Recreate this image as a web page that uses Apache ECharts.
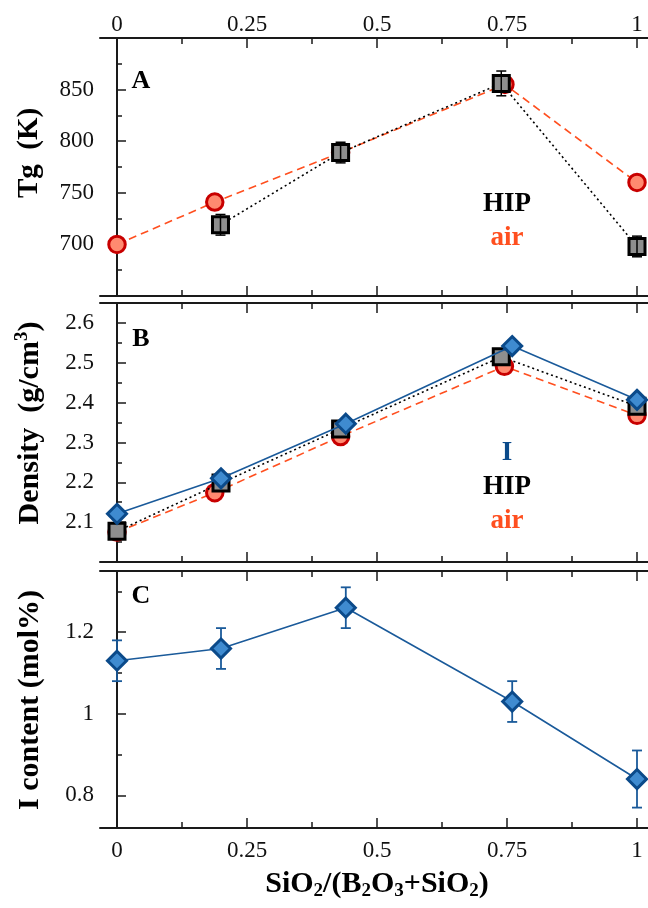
<!DOCTYPE html>
<html><head><meta charset="utf-8">
<script src="https://cdn.jsdelivr.net/npm/echarts@6/dist/echarts.min.js"></script>
<style>html,body{margin:0;padding:0;background:#fff}#c{width:648px;height:908px}</style>
</head><body><div id="c"></div>
<script>
// ---- tick labels ----
const xTickValues = [0, 0.25, 0.5, 0.75, 1];
const xMinorTickValues = [0.125, 0.375, 0.625, 0.875];
const tgTicks = [700, 750, 800, 850];
const tgMinorTicks = [675, 725, 775, 825, 875];
const densTicks = [2.1, 2.2, 2.3, 2.4, 2.5, 2.6];
const densMinorTicks = [2.05, 2.15, 2.25, 2.35, 2.45, 2.55];
const iTicks = [0.8, 1, 1.2];
const iMinorTicks = [0.9, 1.1, 1.3];

// ---- panel A: Tg ----
const airTgX = [0, 0.188, 0.43, 0.746, 1];
const airTg = [700, 741, 789, 855, 760];
const hipTgX = [0.199, 0.43, 0.739, 1];
const hipTg = [719, 789, 856, 698];
const hipTgErr = [10, 10, 12, 10];

// ---- panel B: density ----
const airDensX = [0, 0.188, 0.43, 0.745, 1];
const airDens = [2.075, 2.174, 2.315, 2.491, 2.368];
const hipDensX = [0, 0.2, 0.43, 0.739, 1];
const hipDens = [2.077, 2.198, 2.334, 2.515, 2.391];
const iDensX = [0, 0.2, 0.44, 0.76, 1];
const iDens = [2.121, 2.21, 2.347, 2.542, 2.407];

// ---- panel C: I content ----
const iContX = [0, 0.2, 0.44, 0.76, 1];
const iCont = [1.13, 1.16, 1.26, 1.03, 0.84];
const iContErrLow = [0.05, 0.05, 0.05, 0.05, 0.07];
const iContErrHigh = [0.05, 0.05, 0.05, 0.05, 0.07];

const FONT = 'Liberation Serif';
const AXC = '#1a1a1a';
const AIR_LINE = '#ff4f1f', AIR_FILL = '#ff8a70', AIR_EDGE = '#c80000';
const HIP_FILL = '#8e8e8e', HIP_EDGE = '#000000';
const I_LINE = '#1a5a9a', I_FILL = '#3f8bd0', I_EDGE = '#0b4a8a';

const panels = [
  {top: 38, height: 258, min: 650, max: 900, ticks: tgTicks, minor: tgMinorTicks, topLabels: true, bottomLabels: false},
  {top: 303, height: 259, min: 2.0, max: 2.65, ticks: densTicks, minor: densMinorTicks, topLabels: false, bottomLabels: false},
  {top: 571, height: 257, min: 0.72, max: 1.35, ticks: iTicks, minor: iMinorTicks, topLabels: false, bottomLabels: true}
];
const X_MIN = -17 / 520, X_MAX = 1 + 11 / 520;

const grid = [], xAxis = [], yAxis = [];
panels.forEach((p, gi) => {
  grid.push({left: 100, right: 0, top: p.top, height: p.height, containLabel: false});
  ['bottom', 'top'].forEach(pos => {
    const showLab = pos === 'bottom' ? p.bottomLabels : p.topLabels;
    xAxis.push({
      type: 'value', gridIndex: gi, position: pos, min: X_MIN, max: X_MAX,
      axisLine: {show: true, lineStyle: {color: AXC, width: 2}},
      axisTick: {show: true, inside: true, length: 10, customValues: xTickValues, lineStyle: {color: AXC, width: 1.5}},
      axisLabel: {show: showLab, customValues: xTickValues, margin: pos === 'bottom' ? 11 : 2,
        fontFamily: FONT, fontSize: 23, color: '#111'},
      splitLine: {show: false}
    });
    xAxis.push({
      type: 'value', gridIndex: gi, position: pos, min: X_MIN, max: X_MAX,
      axisLine: {show: false},
      axisTick: {show: true, inside: true, length: 6, customValues: xMinorTickValues, lineStyle: {color: AXC, width: 1.5}},
      axisLabel: {show: false},
      splitLine: {show: false}
    });
  });
  yAxis.push({
    type: 'value', gridIndex: gi, position: 'left', min: p.min, max: p.max,
    axisLine: {show: true, lineStyle: {color: AXC, width: 2}},
    axisTick: {show: true, inside: true, length: 9, customValues: p.ticks, lineStyle: {color: AXC, width: 1.5}},
    axisLabel: {show: true, customValues: p.ticks, margin: 6, fontFamily: FONT, fontSize: 23, color: '#111'},
    splitLine: {show: false}
  });
  yAxis.push({
    type: 'value', gridIndex: gi, position: 'left', min: p.min, max: p.max,
    axisLine: {show: false},
    axisTick: {show: true, inside: true, length: 5, customValues: p.minor, lineStyle: {color: AXC, width: 1.5}},
    axisLabel: {show: false},
    splitLine: {show: false}
  });
});

const pairs = (xs, ys) => xs.map((x, i) => [x, ys[i]]);

function lineSeries(gi, xs, ys, opt) {
  return {
    type: 'line', xAxisIndex: gi * 4, yAxisIndex: gi * 2, z: opt.z,
    data: pairs(xs, ys), symbol: opt.symbol, symbolSize: opt.size, showSymbol: true,
    clip: false,
    lineStyle: {color: opt.line, width: 1.6, type: opt.dash},
    itemStyle: {color: opt.fill, borderColor: opt.edge, borderWidth: 3, opacity: 1},
    emphasis: {disabled: true}, silent: true
  };
}

function errSeries(gi, xs, ys, lo, hi, color, capW, lw, z) {
  return {
    type: 'custom', xAxisIndex: gi * 4, yAxisIndex: gi * 2, z: z, silent: true, clip: false,
    data: xs.map((x, i) => [x, ys[i] - lo[i], ys[i] + hi[i]]),
    encode: {x: 0, y: [1, 2]},
    renderItem: function (params, api) {
      const x = api.value(0);
      const pLo = api.coord([x, api.value(1)]);
      const pHi = api.coord([x, api.value(2)]);
      const hw = capW / 2;
      const st = {stroke: color, lineWidth: lw};
      return {type: 'group', children: [
        {type: 'line', shape: {x1: pLo[0], y1: pLo[1], x2: pHi[0], y2: pHi[1]}, style: st},
        {type: 'line', shape: {x1: pLo[0] - hw, y1: pLo[1], x2: pLo[0] + hw, y2: pLo[1]}, style: st},
        {type: 'line', shape: {x1: pHi[0] - hw, y1: pHi[1], x2: pHi[0] + hw, y2: pHi[1]}, style: st}
      ]};
    }
  };
}

const AIR = {symbol: 'circle', size: 16.5, line: AIR_LINE, fill: AIR_FILL, edge: AIR_EDGE, dash: [8, 5]};
const HIP = {symbol: 'rect', size: 16, line: '#000', fill: HIP_FILL, edge: HIP_EDGE, dash: [2, 3]};
const IDI = {symbol: 'diamond', size: 19, line: I_LINE, fill: I_FILL, edge: I_EDGE, dash: 'solid'};

const series = [
  lineSeries(0, airTgX, airTg, Object.assign({z: 3}, AIR)),
  lineSeries(0, hipTgX, hipTg, Object.assign({z: 4}, HIP)),
  errSeries(0, hipTgX, hipTg, hipTgErr, hipTgErr, '#000', 10, 1.5, 5),

  lineSeries(1, airDensX, airDens, Object.assign({z: 3}, AIR)),
  lineSeries(1, hipDensX, hipDens, Object.assign({z: 4}, HIP)),
  lineSeries(1, iDensX, iDens, Object.assign({z: 5}, IDI)),

  errSeries(2, iContX, iCont, iContErrLow, iContErrHigh, I_LINE, 10, 1.8, 3),
  lineSeries(2, iContX, iCont, Object.assign({z: 4}, IDI))
];

function txt(x, y, text, size, color, extra) {
  return Object.assign({
    type: 'text', x: x, y: y, z: 100, silent: true,
    style: {text: text, font: 'bold ' + size + 'px "' + FONT + '"', fill: color,
      textAlign: 'center', textVerticalAlign: 'middle', align: 'center', verticalAlign: 'middle'}
  }, extra || {});
}
function richTxt(x, y, text, size, rot) {
  const b = {fontFamily: FONT, fontWeight: 'bold', fontSize: size, fill: '#000', lineHeight: size + 4};
  return {
    type: 'text', x: x, y: y, z: 100, silent: true, rotation: rot,
    style: {text: text, textAlign: 'center', textVerticalAlign: 'middle', align: 'center', verticalAlign: 'middle',
      fill: '#000',
      rich: {
        b: b,
        sup: {fontFamily: FONT, fontWeight: 'bold', fontSize: Math.round(size * 0.62), fill: '#000', verticalAlign: 'top', lineHeight: Math.round(size * 0.62)},
        sub: {fontFamily: FONT, fontWeight: 'bold', fontSize: Math.round(size * 0.62), fill: '#000', verticalAlign: 'bottom', lineHeight: Math.round(size * 0.62)}
      }}
  };
}

const graphic = [
  txt(141, 81, 'A', 26, '#000'),
  txt(141, 339, 'B', 26, '#000'),
  txt(141, 596, 'C', 26, '#000'),
  txt(507, 204, 'HIP', 27, '#000'),
  txt(507, 238, 'air', 27, AIR_LINE),
  txt(507, 453, 'I', 27, I_EDGE),
  txt(507, 487, 'HIP', 27, '#000'),
  txt(507, 521, 'air', 27, AIR_LINE),
  richTxt(30, 153, '{b|Tg  (K)}', 29, Math.PI / 2),
  richTxt(30, 423, '{b|Density  (g/cm}{sup|3}{b|)}', 30, Math.PI / 2),
  richTxt(30, 700, '{b|I content (mol%)}', 30, Math.PI / 2),
  richTxt(377, 884, '{b|SiO}{sub|2}{b|/(B}{sub|2}{b|O}{sub|3}{b|+SiO}{sub|2}{b|)}', 30, 0)
];

const chart = echarts.init(document.getElementById('c'), null, {renderer: 'canvas'});
chart.setOption({
  animation: false,
  backgroundColor: '#ffffff',
  grid: grid, xAxis: xAxis, yAxis: yAxis, series: series, graphic: graphic
});
</script></body></html>
